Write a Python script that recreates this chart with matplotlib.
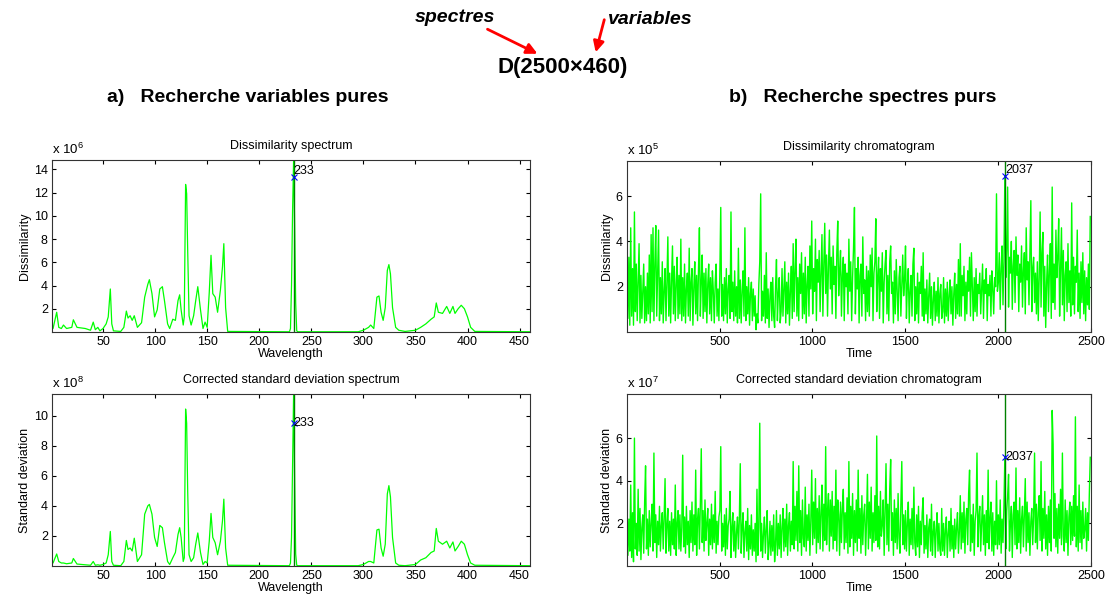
import matplotlib
matplotlib.use("Agg")
import matplotlib.pyplot as plt
import numpy as np
from matplotlib.patches import FancyArrowPatch

plt.rcParams['font.family'] = ['Liberation Sans', 'DejaVu Sans']
plt.rcParams['mathtext.fontset'] = 'custom'
plt.rcParams['mathtext.rm'] = 'Liberation Sans'

# ---- spectra (wavelength, value) ----
wl_dis = [1, 2, 5.5, 7.5, 10, 12, 15, 20, 21.5, 25, 33, 38, 40.6, 42.6, 45, 47, 50, 53, 55, 57, 58.4,
          60, 67, 70, 72.4, 74, 76, 78, 80, 83, 87, 90, 93, 94.5, 97, 99.5, 102, 104.5, 107, 109,
          112, 114, 117, 119.5, 122, 123.6, 125, 127, 128, 129.3, 130.3, 131.3, 132.6, 134.6, 137,
          139, 141, 143.6, 146, 148, 150, 152, 153.7, 155.4, 157.7, 160, 162.7, 164.7, 166, 167.7,
          169.7, 229, 230, 231, 232, 233, 234, 235, 236, 237, 295, 300, 305, 307, 310, 313, 315,
          317, 319, 321, 323, 324.5, 326, 328, 331, 334, 340, 350, 355, 360, 365, 368, 370, 372,
          376, 380, 383, 386, 388, 391, 394, 397, 400, 403, 407, 460]
dis_spec = [0.4, 0.3, 1.7, 0.4, 0.3, 0.6, 0.3, 0.4, 1.05, 0.4, 0.3, 0.15, 0.85, 0.2, 0.4, 0.1, 0.3, 0.7,
            1.3, 3.7, 0.7, 0.1, 0.05, 0.4, 1.8, 1.2, 1.4, 1.0, 1.4, 0.4, 0.8, 3.0, 4.1, 4.5, 3.3, 1.3,
            1.9, 3.7, 3.9, 2.7, 0.7, 0.3, 1.1, 1.0, 2.7, 3.2, 1.9, 0.6, 1.3, 12.7, 11.9, 7.0, 1.4, 0.6,
            1.4, 2.7, 3.9, 1.9, 0.3, 0.85, 0.4, 3.4, 6.6, 3.3, 3.0, 1.7, 3.6, 5.6, 7.6, 2.1, 0.05,
            0.02, 0.3, 4.0, 10.4, 14.8, 9.1, 2.5, 0.1, 0.02, 0.02, 0.15, 0.4, 0.6, 0.3, 3.0, 3.1, 1.7,
            1.0, 2.1, 5.3, 5.8, 5.0, 2.1, 0.4, 0.15, 0.05, 0.15, 0.4, 0.7, 1.1, 1.3, 2.5, 1.7, 1.6,
            2.2, 1.6, 2.2, 1.6, 2.0, 2.3, 2.0, 1.3, 0.4, 0.05, 0.02]

std_spec = [0.25, 0.2, 0.8, 0.3, 0.2, 0.2, 0.15, 0.2, 0.5, 0.13, 0.08, 0.05, 0.3, 0.05, 0.08, 0.05, 0.1,
            0.2, 0.75, 2.3, 0.3, 0.05, 0.02, 0.3, 1.7, 1.1, 1.2, 1.0, 1.85, 0.3, 0.75, 3.45, 4.0, 4.1,
            3.45, 1.9, 1.3, 2.7, 2.55, 1.55, 0.3, 0.1, 0.55, 0.9, 2.1, 2.55, 1.9, 0.3, 0.55, 10.45,
            9.5, 5.0, 0.75, 0.3, 0.55, 1.45, 2.2, 0.9, 0.1, 0.3, 0.2, 1.65, 3.5, 1.9, 1.55, 0.75,
            1.65, 3.0, 4.45, 1.2, 0.05, 0.02, 0.2, 1.9, 6.7, 11.45, 5.8, 0.8, 0.05, 0.02, 0.02, 0.1,
            0.3, 0.3, 0.2, 2.4, 2.45, 1.2, 0.65, 1.45, 4.8, 5.35, 4.6, 1.9, 0.2, 0.05, 0.02, 0.1,
            0.4, 0.55, 0.9, 1.0, 2.5, 1.65, 1.45, 1.65, 1.2, 1.6, 1.0, 1.3, 1.65, 1.45, 0.75, 0.2,
            0.05, 0.02]

# ---- chromatograms, one value every 5 time units (dis: x1e4, std: x1e6) ----
time_step = 5
dis_chrom = [
    26, 6, 33, 3, 46, 7, 28, 3, 53, 9, 30, 5, 22, 39, 4, 25, 6, 18, 30, 4,
    20, 5, 26, 8, 34, 4, 43, 9, 46, 5, 30, 47, 7, 27, 45, 5, 24, 8, 31, 4,
    18, 28, 5, 22, 42, 7, 26, 4, 23, 38, 8, 29, 5, 21, 33, 6, 25, 8, 41, 5,
    24, 7, 30, 4, 19, 26, 7, 37, 5, 22, 28, 3, 20, 31, 8, 25, 5, 27, 46, 7,
    22, 34, 6, 26, 9, 28, 4, 21, 30, 8, 24, 5, 27, 18, 4, 22, 30, 7, 19, 5,
    26, 55, 7, 21, 5, 24, 8, 28, 4, 19, 25, 6, 53, 9, 22, 5, 27, 7, 20, 4,
    37, 6, 23, 4, 18, 27, 7, 46, 5, 20, 8, 24, 3, 17, 22, 5, 19, 7, 16, 1,
    8, 4, 21, 31, 61, 5, 18, 7, 25, 4, 35, 6, 19, 2, 16, 22, 5, 24, 7, 2,
    20, 32, 5, 17, 24, 4, 9, 28, 7, 19, 31, 4, 22, 8, 26, 3, 18, 29, 6, 39,
    9, 27, 41, 7, 24, 5, 30, 17, 35, 6, 26, 8, 33, 4, 21, 29, 7, 38, 19, 49,
    8, 28, 18, 41, 5, 32, 22, 36, 9, 27, 43, 7, 30, 48, 17, 34, 7, 29, 45, 19,
    33, 8, 38, 21, 29, 6, 35, 49, 16, 27, 36, 7, 25, 33, 5, 30, 20, 26, 8, 41,
    18, 31, 5, 24, 37, 55, 8, 28, 19, 33, 4, 25, 30, 7, 42, 17, 23, 5, 29, 9,
    27, 7, 34, 20, 37, 5, 26, 31, 50, 9, 24, 33, 6, 28, 18, 35, 4, 22, 30, 36,
    8, 25, 5, 31, 38, 17, 22, 4, 27, 8, 32, 19, 5, 24, 29, 7, 20, 34, 16, 23,
    38, 6, 21, 28, 4, 18, 25, 7, 30, 37, 5, 20, 8, 26, 4, 22, 17, 29, 7, 35,
    5, 19, 8, 23, 4, 16, 26, 6, 20, 3, 14, 22, 5, 18, 7, 24, 4, 17, 21, 6,
    9, 24, 4, 19, 7, 22, 5, 16, 23, 8, 20, 3, 17, 26, 6, 21, 8, 32, 7, 39,
    7, 25, 16, 29, 5, 22, 8, 27, 18, 33, 7, 35, 20, 5, 24, 9, 28, 7, 21, 17,
    26, 8, 19, 30, 6, 23, 17, 28, 5, 21, 16, 25, 7, 27, 19, 8, 24, 20, 61, 18,
    22, 35, 10, 28, 38, 12, 31, 69, 24, 37, 64, 11, 33, 26, 40, 10, 29, 36, 13, 42,
    25, 34, 9, 30, 22, 38, 11, 27, 35, 8, 46, 23, 31, 12, 36, 58, 9, 28, 33, 13,
    26, 8, 31, 5, 24, 53, 11, 35, 44, 7, 29, 2, 22, 34, 9, 27, 39, 6, 64, 13,
    30, 10, 45, 24, 33, 50, 7, 28, 46, 12, 36, 5, 25, 31, 9, 39, 13, 27, 7, 57,
    12, 33, 8, 29, 22, 45, 9, 26, 6, 31, 13, 35, 8, 27, 5, 24, 12, 30, 10, 51]
std_chrom = [
    30, 5, 22, 7, 38, 4, 25, 2, 60, 8, 20, 5, 36, 7, 27, 3, 18, 24, 6, 30,
    47, 8, 22, 5, 26, 9, 20, 29, 7, 53, 11, 24, 4, 21, 10, 28, 7, 19, 25, 8,
    23, 41, 6, 19, 27, 7, 21, 5, 25, 10, 22, 8, 38, 5, 20, 26, 8, 24, 7, 18,
    52, 9, 23, 6, 28, 10, 21, 4, 26, 11, 30, 7, 24, 10, 45, 5, 22, 27, 8, 29,
    55, 11, 26, 7, 31, 12, 20, 27, 5, 22, 10, 29, 8, 24, 11, 35, 6, 21, 10, 23,
    26, 56, 7, 20, 9, 24, 5, 27, 8, 19, 22, 35, 4, 18, 25, 7, 21, 4, 16, 23,
    8, 22, 48, 6, 18, 25, 4, 16, 21, 7, 27, 3, 19, 8, 24, 5, 17, 7, 20, 2,
    36, 5, 18, 67, 7, 20, 4, 15, 23, 6, 17, 26, 3, 9, 21, 5, 19, 7, 24, 2,
    10, 26, 5, 20, 8, 24, 4, 18, 27, 7, 22, 9, 29, 5, 19, 25, 7, 21, 10, 49,
    8, 28, 12, 35, 7, 47, 11, 26, 5, 31, 13, 9, 37, 7, 24, 12, 29, 5, 21, 45,
    10, 30, 13, 41, 6, 27, 11, 33, 8, 25, 38, 7, 29, 12, 56, 10, 26, 34, 7, 31,
    14, 35, 8, 28, 12, 45, 7, 31, 24, 5, 30, 11, 27, 36, 8, 25, 11, 32, 6, 49,
    9, 28, 13, 34, 5, 26, 11, 31, 7, 45, 13, 27, 6, 33, 10, 24, 29, 5, 21, 43,
    8, 30, 13, 37, 7, 25, 11, 33, 12, 61, 9, 28, 8, 35, 14, 19, 31, 5, 26, 48,
    10, 29, 7, 36, 50, 12, 25, 5, 31, 11, 27, 8, 34, 13, 6, 29, 49, 10, 24, 8,
    26, 7, 20, 30, 5, 22, 10, 27, 8, 37, 11, 5, 24, 9, 28, 4, 21, 10, 25, 32,
    6, 19, 8, 24, 4, 18, 22, 7, 29, 5, 16, 21, 4, 17, 25, 7, 20, 8, 5, 27,
    7, 20, 5, 17, 23, 4, 15, 21, 7, 27, 8, 19, 4, 22, 8, 18, 25, 6, 16, 33,
    8, 25, 11, 30, 6, 22, 27, 10, 34, 45, 7, 24, 11, 29, 5, 21, 26, 53, 9, 23,
    28, 7, 20, 33, 10, 24, 5, 26, 11, 45, 8, 22, 30, 7, 25, 5, 21, 10, 40, 8,
    24, 10, 31, 6, 22, 11, 28, 51, 8, 26, 33, 43, 7, 20, 28, 4, 24, 30, 10, 46,
    8, 26, 11, 32, 6, 22, 28, 9, 24, 41, 7, 30, 11, 25, 5, 21, 27, 10, 23, 53,
    11, 29, 8, 25, 33, 12, 49, 7, 27, 13, 35, 8, 24, 5, 28, 11, 31, 7, 73, 57,
    13, 34, 9, 27, 6, 29, 13, 36, 10, 53, 14, 7, 31, 11, 26, 5, 23, 30, 10, 28,
    12, 33, 14, 70, 9, 28, 7, 38, 11, 26, 8, 30, 13, 17, 27, 7, 25, 12, 34, 51]

# selected purest variable / spectrum and marker values
pure_var = 233
pure_var_dis = 13.3e6
pure_var_std = 9.5e8
pure_spec = 2036
pure_spec_dis = 6.9e5
pure_spec_std = 5.1e7

W, H = 1110, 608
fig = plt.figure(figsize=(W / 100, H / 100), dpi=100)


def px_axes(x0, y0, x1, y1):
    return fig.add_axes([x0 / W, 1 - y1 / H, (x1 - x0) / W, (y1 - y0) / H])


green = '#00ff00'
dark = '#008000'
fs = 9


def style(ax, title, ylabel, xlabel, expo, yticks, xticks, xlim, ylim):
    ax.set_xlim(*xlim)
    ax.set_ylim(*ylim)
    ax.set_yticks(yticks)
    ax.set_xticks(xticks)
    ax.set_xticklabels([str(int(t)) for t in xticks], fontsize=fs)
    ax.tick_params(direction='in', top=True, right=True, length=3, width=0.8, pad=3)
    ax.set_title(title, fontsize=fs, pad=8)
    ax.set_ylabel(ylabel, fontsize=fs, labelpad=2)
    ax.set_xlabel(xlabel, fontsize=fs, labelpad=0)
    ax.text(0.0, 1.015, 'x 10$^{%d}$' % expo, transform=ax.transAxes, fontsize=fs + 0.5,
            va='bottom')
    for s in ax.spines.values():
        s.set_linewidth(0.8)
        s.set_color('#333333')


# a) left spectra
ax1 = px_axes(52, 160, 530, 332)
ax1.plot(wl_dis, np.array(dis_spec) * 1e6, color=green, lw=0.9)
ax1.axvline(pure_var, color=dark, lw=1)
ax1.plot([pure_var], [pure_var_dis], 'x', color='b', ms=4, mew=0.8)
ax1.text(pure_var, pure_var_dis, str(pure_var), fontsize=fs, va='bottom', ha='left')
style(ax1, 'Dissimilarity spectrum', 'Dissimilarity', 'Wavelength', 6,
      [2e6, 4e6, 6e6, 8e6, 10e6, 12e6, 14e6], range(50, 451, 50), (1, 460), (0, 14.8e6))
ax1.set_yticklabels([str(v) for v in range(2, 15, 2)], fontsize=fs)

ax2 = px_axes(52, 394, 530, 566)
ax2.plot(wl_dis, np.array(std_spec) * 1e8, color=green, lw=0.9)
ax2.axvline(pure_var, color=dark, lw=1)
ax2.plot([pure_var], [pure_var_std], 'x', color='b', ms=4, mew=0.8)
ax2.text(pure_var, pure_var_std, str(pure_var), fontsize=fs, va='center', ha='left')
style(ax2, 'Corrected standard deviation spectrum', 'Standard deviation', 'Wavelength', 8,
      [2e8, 4e8, 6e8, 8e8, 10e8], range(50, 451, 50), (1, 460), (0, 11.45e8))
ax2.set_yticklabels([str(v) for v in range(2, 11, 2)], fontsize=fs)

# b) right chromatograms
t = np.arange(len(dis_chrom)) * time_step + 1
ax3 = px_axes(627, 161, 1091, 332)
ax3.plot(t, np.array(dis_chrom) * 1e4, color=green, lw=1.0)
ax3.axvline(pure_spec, color=dark, lw=1)
ax3.plot([pure_spec], [pure_spec_dis], 'x', color='b', ms=4, mew=0.8)
ax3.text(pure_spec, pure_spec_dis, '2037', fontsize=fs, va='bottom', ha='left')
style(ax3, 'Dissimilarity chromatogram', 'Dissimilarity', 'Time', 5,
      [2e5, 4e5, 6e5], range(500, 2501, 500), (1, 2500), (0, 7.55e5))
ax3.set_yticklabels(['2', '4', '6'], fontsize=fs)

ax4 = px_axes(627, 394, 1091, 566)
ax4.plot(t, np.array(std_chrom) * 1e6, color=green, lw=1.0)
ax4.axvline(pure_spec, color=dark, lw=1)
ax4.plot([pure_spec], [pure_spec_std], 'x', color='b', ms=4, mew=0.8)
ax4.text(pure_spec, pure_spec_std, '2037', fontsize=fs, va='center', ha='left')
style(ax4, 'Corrected standard deviation chromatogram', 'Standard deviation', 'Time', 7,
      [2e7, 4e7, 6e7], range(500, 2501, 500), (1, 2500), (0, 8.07e7))
ax4.set_yticklabels(['2', '4', '6'], fontsize=fs)

# headings
fig.text(248 / W, 1 - 98 / H, 'a)   Recherche variables pures', fontsize=14,
         fontweight='bold', ha='center', va='center')
fig.text(863 / W, 1 - 98 / H, 'b)   Recherche spectres purs', fontsize=14,
         fontweight='bold', ha='center', va='center')
fig.text(563 / W, 1 - 68 / H, 'D(2500×460)', fontsize=16, fontweight='bold',
         ha='center', va='center')
fig.text(455 / W, 1 - 18 / H, 'spectres', fontsize=14, fontweight='bold', style='italic',
         ha='center', va='center')
fig.text(650 / W, 1 - 20 / H, 'variables', fontsize=14, fontweight='bold', style='italic',
         ha='center', va='center')

for (xa, ya), (xb, yb) in [((485, 28), (540, 55)), ((605, 17), (595, 55))]:
    fig.add_artist(FancyArrowPatch((xa / W, 1 - ya / H), (xb / W, 1 - yb / H),
                                   transform=fig.transFigure, arrowstyle='-|>',
                                   mutation_scale=16, color='red', lw=2))

fig.savefig('out.png', dpi=100)
